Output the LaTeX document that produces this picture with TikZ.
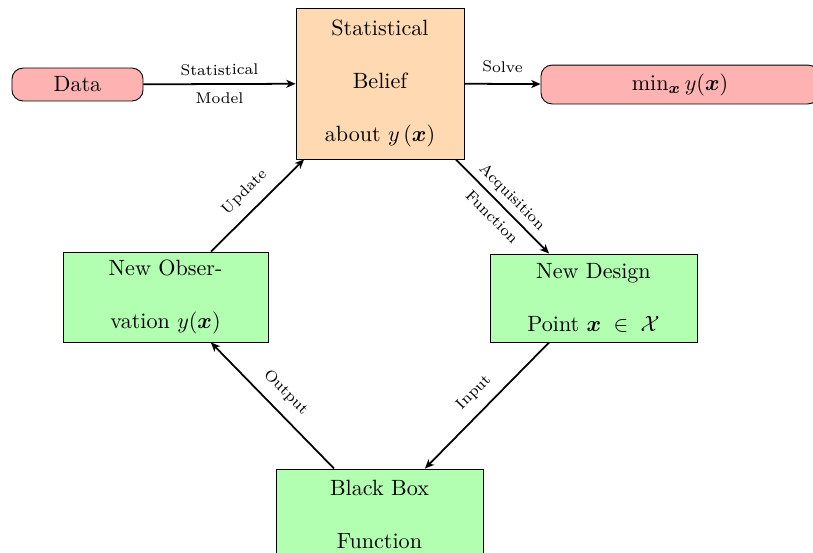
\documentclass[tikz,border=0pt]{standalone}
\usepackage{amsmath,amssymb}
\usetikzlibrary{arrows.meta}
\begin{document}
\begin{tikzpicture}[x=0.4525pt,y=-0.4525pt,
  box/.style={draw, align=center, inner sep=2pt},
  pinkbox/.style={box, rounded corners=5pt, fill=red!30},
  beliefbox/.style={box, fill=orange!30},
  greenbox/.style={box, fill=green!30},
  conn/.style={-{Stealth[length=4.2pt,width=3.6pt,inset=1.2pt]}, thick},
  lbl/.style={font=\scriptsize, sloped},
  lblup/.style={lbl, above=1.5pt}]
\useasboundingbox (0,0) rectangle (813,552);
\clip (0,0) rectangle (813,552);

\node[pinkbox, minimum width=59.3pt, minimum height=14.9pt] (data) at (77.5,84.5) {Data};
\node[beliefbox, minimum width=76pt, minimum height=68.3pt] (belief) at (380,83.5)
  {Statistical\\[12pt]Belief\\[12pt]about $y\,(\boldsymbol{x})$};
\node[pinkbox, minimum width=125.8pt, minimum height=17.6pt] (minbox) at (680,84.5)
  {$\min_{\boldsymbol{x}} y(\boldsymbol{x})$};
\node[greenbox, minimum width=92.8pt, minimum height=40.7pt] (newobs) at (165.5,297)
  {New Obser-\\[12pt]vation $y(\boldsymbol{x})$};
\node[greenbox, minimum width=93.7pt, minimum height=39.8pt] (newdes) at (593.5,298)
  {New Design\\[12pt]Point $\boldsymbol{x}\;\in\;\mathcal{X}$};
\node[greenbox, minimum width=93.7pt, minimum height=40.7pt] (bbox) at (379.5,514)
  {Black Box\\[12pt]Function};

\draw[conn] (data) -- node[lbl, align=center] {Statistical\\[5pt]Model} (belief);
\draw[conn] (belief) -- node[lblup] {Solve} (minbox);
\draw[conn] (newobs.45) -- node[lblup] {Update} (belief.-135);
\draw[conn] (belief.-45) -- node[lbl, align=center] {Acquisition\\[5pt]Function} (newdes.135);
\draw[conn] (newdes.-135) -- node[lblup] {Input} (bbox.45);
\draw[conn] (bbox.135) -- node[lblup] {Output} (newobs.-45);
\end{tikzpicture}
\end{document}
